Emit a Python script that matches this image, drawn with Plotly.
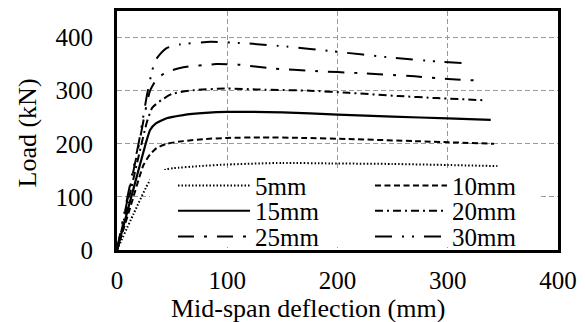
import plotly.graph_objects as go

# ---- data ----
x_5mm = [0, 15, 30, 40, 45, 51, 75, 100, 150, 194, 250, 300, 345]
y_5mm = [0, 68, 131, 146, 152, 154, 158, 161, 164, 163, 162, 160, 158]

x_10mm = [0, 12, 24, 30, 36, 45, 60, 80, 100, 130, 170, 210, 270, 342]
y_10mm = [0, 80, 160, 180, 192, 200, 205, 209, 211, 212, 211, 209, 205, 200]

x_15mm = [0, 14, 26, 30, 35, 45, 60, 80, 100, 150, 200, 250, 300, 339]
y_15mm = [0, 108, 200, 226, 238, 248, 254, 258, 260, 259, 255, 251, 248, 245]

x_20mm = [0, 10, 20, 27, 32, 40, 50, 70, 100, 130, 175, 210, 255, 290, 333]
y_20mm = [0, 90, 180, 240, 268, 282, 294, 301, 304, 302, 300, 296, 290, 286, 282]

x_25mm = [0, 10, 20, 26, 30, 36, 45, 60, 90, 110, 140, 180, 220, 270, 300, 328]
y_25mm = [0, 100, 200, 265, 300, 322, 335, 344, 350, 349, 342, 337, 333, 327, 322, 319]

x_30mm = [0, 10, 20, 27, 31, 35, 45, 57, 85, 118, 154, 196, 250, 290, 321]
y_30mm = [0, 105, 205, 290, 330, 358, 380, 387, 392, 389, 383, 374, 362, 355, 351]

series_names = ["5mm", "10mm", "15mm", "20mm", "25mm", "30mm"]
series_x = [x_5mm, x_10mm, x_15mm, x_20mm, x_25mm, x_30mm]
series_y = [y_5mm, y_10mm, y_15mm, y_20mm, y_25mm, y_30mm]

x_ticks = [0, 100, 200, 300, 400]
y_ticks = [0, 100, 200, 300, 400]

# ---- styles ----
dashes = [
    "1.5px,2px",
    "6px,3.5px",
    "solid",
    "8px,4px,2px,4px",
    "16px,10px,3px,10px",
    "17px,10px,2px,8px,2px,10px",
]
widths = [2, 2, 2.2, 2, 2, 2]
legend_ids = ["legend", "legend", "legend2", "legend2", "legend3", "legend3"]

FONT = "Liberation Serif"

fig = go.Figure()
for name, xs, ys, d, w, lg in zip(series_names, series_x, series_y, dashes, widths, legend_ids):
    fig.add_trace(go.Scatter(
        x=xs, y=ys, mode="lines", name=name,
        line=dict(color="black", width=w, dash=d, shape="spline", smoothing=0.5),
        legend=lg,
    ))

W, H = 585, 322
L, R, T, B = 117, 27, 8, 72
pw, ph = W - L - R, H - T - B

def px_x(p):
    return (p - L) / pw

def px_y(p):
    return (H - B - p) / ph

legend_common = dict(
    orientation="h",
    itemwidth=72,
    entrywidth=110,
    entrywidthmode="pixels",
    bgcolor="rgba(0,0,0,0)",
    borderwidth=0,
    font=dict(family=FONT, size=25, color="black"),
    xanchor="left",
    yanchor="middle",
    x=px_x(173),
    traceorder="normal",
)

fig.update_layout(
    width=W, height=H,
    margin=dict(l=L, r=R, t=T, b=B),
    paper_bgcolor="white",
    plot_bgcolor="white",
    showlegend=True,
    font=dict(family=FONT, size=25, color="black"),
    xaxis=dict(
        range=[0, 400], tickvals=x_ticks, ticktext=[str(v) for v in x_ticks],
        showline=True, mirror=True, linecolor="black", linewidth=3,
        showgrid=True, gridcolor="#9a9a9a", gridwidth=1, griddash="5px,3px",
        zeroline=False, ticks="", ticklabelstandoff=6,
        tickfont=dict(family=FONT, size=25, color="black"),
    ),
    yaxis=dict(
        range=[0, 450], tickvals=y_ticks, ticktext=[str(v) for v in y_ticks],
        showline=True, mirror=True, linecolor="black", linewidth=3,
        showgrid=True, gridcolor="#9a9a9a", gridwidth=1, griddash="5px,3px",
        zeroline=False, ticks="", ticklabelstandoff=16,
        tickfont=dict(family=FONT, size=25, color="black"),
    ),
    legend=dict(legend_common, y=px_y(185)),
    legend2=dict(legend_common, y=px_y(210.5)),
    legend3=dict(legend_common, y=px_y(236.5)),
    shapes=[dict(
        type="rect", xref="paper", yref="paper", layer="above",
        x0=px_x(150), x1=px_x(541), y0=px_y(247), y1=px_y(169),
        fillcolor="white", line=dict(width=0),
    )],
    annotations=[
        dict(text="Mid-span deflection (mm)", xref="paper", yref="paper",
             x=px_x(308), y=px_y(309), xanchor="center", yanchor="middle",
             showarrow=False, font=dict(family=FONT, size=26, color="black")),
        dict(text="Load (kN)", xref="paper", yref="paper", textangle=-90,
             x=px_x(27), y=px_y(132), xanchor="center", yanchor="middle",
             showarrow=False, font=dict(family=FONT, size=26, color="black")),
    ],
)

fig.write_html("out.html")
